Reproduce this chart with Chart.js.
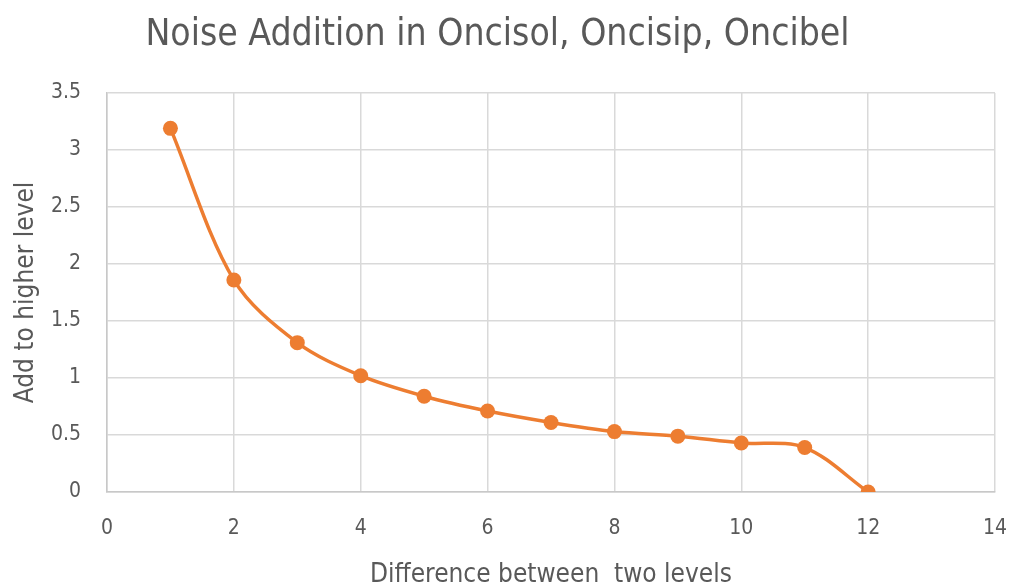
<!DOCTYPE html>
<html>
<head>
<meta charset="utf-8">
<script src="https://cdn.jsdelivr.net/npm/chart.js@4"></script>
<style>
  html, body { margin: 0; padding: 0; background: #ffffff; }
  #wrap { width: 1012px; height: 588px; position: relative; }
</style>
</head>
<body>
<div id="wrap"><canvas id="c" width="1012" height="588"></canvas></div>
<script>
const chartTitle = "Noise Addition in Oncisol, Oncisip, Oncibel";
const xTitle = "Difference between  two levels";
const yTitle = "Add to higher level";
const xValues = [1, 2, 3, 4, 5, 6, 7, 8, 9, 10, 11, 12];
const yValues = [3.19, 1.86, 1.31, 1.02, 0.84, 0.71, 0.61, 0.53, 0.49, 0.43, 0.39, 0.0];
const xTicks = [0, 2, 4, 6, 8, 10, 12, 14];
const yTicks = [0, 0.5, 1, 1.5, 2, 2.5, 3, 3.5];

const FONT = "'Liberation Sans Narrow', 'DejaVu Sans Condensed', 'Liberation Sans', sans-serif";
const TEXT = '#595959';
const GRID = '#d9d9d9';
const ORANGE = '#ED7D31';

const points = xValues.map((x, i) => ({ x: x, y: yValues[i] }));

new Chart(document.getElementById('c'), {
  type: 'line',
  data: {
    datasets: [{
      data: points,
      borderColor: ORANGE,
      backgroundColor: ORANGE,
      borderWidth: 3.5,
      pointRadius: 7.5,
      pointHoverRadius: 7.5,
      pointBackgroundColor: ORANGE,
      pointBorderColor: ORANGE,
      pointBorderWidth: 0,
      tension: 0.33,
      fill: false
    }]
  },
  options: {
    responsive: false,
    animation: false,
    layout: { padding: { left: 0, right: 17, top: 0, bottom: 0 } },
    plugins: {
      legend: { display: false },
      tooltip: { enabled: false },
      title: {
        display: true,
        text: chartTitle,
        color: TEXT,
        font: { family: FONT, size: 37, weight: 'normal', lineHeight: 1.2 },
        padding: { top: 13, bottom: 35.6 }
      }
    },
    scales: {
      x: {
        type: 'linear',
        min: xTicks[0],
        max: xTicks[xTicks.length - 1],
        afterBuildTicks: (s) => { s.ticks = xTicks.map(v => ({ value: v })); },
        afterFit: (s) => { s.height = 96; s.paddingLeft = 0; s.paddingRight = 0; },
        grid: { color: GRID, lineWidth: 1.5, drawTicks: false },
        border: { color: '#c8c8c8', width: 1.5 },
        ticks: {
          color: TEXT,
          padding: 24,
          font: { family: FONT, size: 21, lineHeight: 1.2 },
          callback: (v) => String(v)
        },
        title: {
          display: true,
          text: xTitle,
          color: TEXT,
          font: { family: FONT, size: 26, lineHeight: 1 },
          padding: { top: 0, bottom: 0 }
        }
      },
      y: {
        type: 'linear',
        min: yTicks[0],
        max: yTicks[yTicks.length - 1],
        afterBuildTicks: (s) => { s.ticks = yTicks.map(v => ({ value: v })); },
        afterFit: (s) => { s.width = 107; s.paddingTop = 0; s.paddingBottom = 0; },
        grid: { color: GRID, lineWidth: 1.5, drawTicks: false },
        border: { color: '#c8c8c8', width: 1.5 },
        ticks: {
          color: TEXT,
          padding: 26,
          font: { family: FONT, size: 21, lineHeight: 1.2 },
          callback: (v) => String(v)
        },
        title: {
          display: true,
          text: yTitle,
          color: TEXT,
          font: { family: FONT, size: 26, lineHeight: 1.2 },
          padding: { top: 11, bottom: 0 }
        }
      }
    }
  }
});
</script>
</body>
</html>
